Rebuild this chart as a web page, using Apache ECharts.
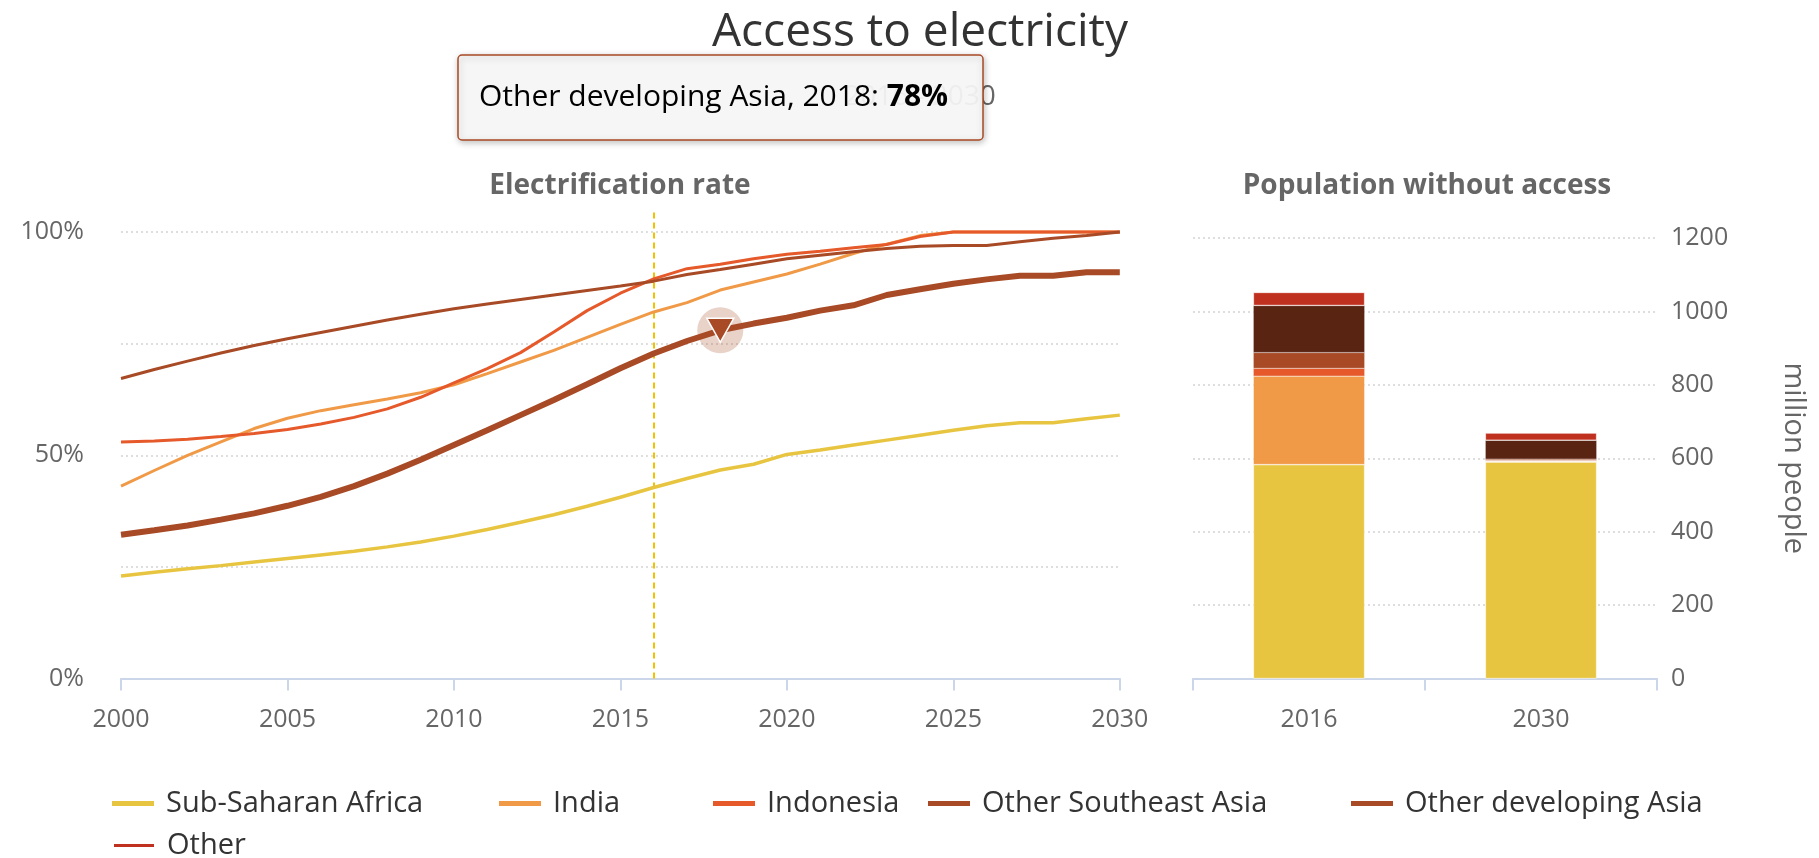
<!DOCTYPE html>
<html><head><meta charset="utf-8">
<script src="https://cdn.jsdelivr.net/npm/echarts@6/dist/echarts.min.js"></script>
<style>html,body{margin:0;padding:0;background:#fff}#c{width:1819px;height:858px}</style>
</head><body><div id="c"></div>
<script>
// ---------- data ----------
const years = [2000,2001,2002,2003,2004,2005,2006,2007,2008,2009,2010,2011,2012,2013,2014,2015,2016,2017,2018,2019,2020,2021,2022,2023,2024,2025,2026,2027,2028,2029,2030];
const subSaharanAfrica = [23.0,23.8,24.6,25.3,26.1,26.9,27.7,28.5,29.5,30.6,31.9,33.4,35.0,36.7,38.6,40.6,42.8,44.8,46.7,48.0,50.2,51.2,52.3,53.4,54.5,55.6,56.6,57.3,57.3,58.2,59.0];
const india = [43.1,46.6,50.0,53.0,56.0,58.3,60.0,61.3,62.6,64.0,65.8,68.3,70.9,73.5,76.4,79.3,82.1,84.2,87.0,88.8,90.6,92.8,95.2,97.3,99.2,100,100,100,100,100,100];
const indonesia = [53.0,53.2,53.6,54.2,54.9,55.8,57.0,58.5,60.4,63.0,66.2,69.4,73.0,77.6,82.4,86.3,89.5,91.8,92.8,94.0,95.0,95.7,96.5,97.2,99.0,100,100,100,100,100,100];
const otherSoutheastAsia = [67.2,69.2,71.1,72.9,74.6,76.1,77.5,78.9,80.3,81.6,82.8,83.9,84.9,85.9,86.9,87.9,89.0,90.5,91.6,92.8,94.0,94.8,95.6,96.3,96.8,97.0,97.0,97.8,98.6,99.2,100];
const otherDevelopingAsia = [32.2,33.2,34.3,35.6,37.0,38.7,40.7,43.1,45.9,49.0,52.3,55.6,59.0,62.4,65.9,69.5,72.8,75.6,78.0,79.5,80.8,82.4,83.6,85.9,87.2,88.4,89.4,90.2,90.2,91.0,91.0];
const rateTickLabels = [0, 50, 100];
const rateGridValues = [25, 50, 75, 100];
const baseYear = 2016;
const hoverYear = 2018;

const barCategories = ['2016', '2030'];
const barSubSaharanAfrica = [583, 590];
const barIndia = [241, 2];
const barIndonesia = [21, 2];
const barOtherSoutheastAsia = [43, 4];
const barOtherDevelopingAsia = [128, 51];
const barOther = [36, 20];

const legendNames = ['Sub-Saharan Africa', 'India', 'Indonesia', 'Other Southeast Asia', 'Other developing Asia', 'Other'];

// ---------- style ----------
const F = '"Open Sans", "Noto Sans", sans-serif';
const C = {
  'Sub-Saharan Africa': '#E8C540', 'India': '#F09A48', 'Indonesia': '#E5592A',
  'Other Southeast Asia': '#A84A25', 'Other developing Asia': '#A84A25', 'Other': '#C0301F'
};
const odaBarColor = '#5A2413';
const axisCol = '#ccd6eb';
const gridLine = {type: [2, 3], color: '#d4d4d4', width: 1.5};
const legendPos = [[112, 789], [499, 789], [713, 789], [928, 789], [1351, 789], [112, 831]];

function pairs(arr) { return years.map((y, i) => [y, arr[i]]); }

const hoverVal = otherDevelopingAsia[years.indexOf(hoverYear)];
const odaData = years.map((y, i) => {
  if (y === hoverYear) {
    return {value: [y, otherDevelopingAsia[i]], symbol: 'triangle', symbolRotate: 180, symbolSize: [27, 24],
      itemStyle: {color: C['Other developing Asia'], borderColor: '#fff', borderWidth: 1.5}};
  }
  return [y, otherDevelopingAsia[i]];
});

const lineBase = {type: 'line', xAxisIndex: 0, yAxisIndex: 0, symbol: 'none', silent: true, emphasis: {disabled: true}};
const barBase = {type: 'bar', xAxisIndex: 1, yAxisIndex: 1, stack: 'pop', barWidth: '48%', silent: true};

const legends = legendNames.map((n, i) => ({
  left: legendPos[i][0], top: legendPos[i][1], padding: 0, itemWidth: 42, itemHeight: 5, icon: 'rect',
  selectedMode: false,
  textStyle: {fontFamily: F, fontSize: 29, color: '#333', padding: [0, 0, 0, 7]},
  data: [{name: n, itemStyle: {color: C[n]}}]
}));

const option = {
  animation: false,
  backgroundColor: '#fff',
  textStyle: {fontFamily: F},
  grid: [
    {left: 121, top: 209.7, width: 998.8, height: 468.9},
    {left: 1193, top: 238, width: 464, height: 440.6}
  ],
  xAxis: [
    {type: 'value', gridIndex: 0, min: 2000, max: 2030, interval: 5,
      axisLine: {lineStyle: {color: axisCol, width: 2}},
      axisTick: {show: true, length: 12, lineStyle: {color: axisCol, width: 2}},
      axisLabel: {fontFamily: F, fontSize: 25, color: '#666', margin: 29, formatter: v => String(v)},
      splitLine: {show: false}},
    {type: 'category', gridIndex: 1, data: barCategories,
      axisLine: {lineStyle: {color: axisCol, width: 2}},
      axisTick: {show: true, length: 12, alignWithLabel: false, lineStyle: {color: axisCol, width: 2}},
      axisLabel: {fontFamily: F, fontSize: 25, color: '#666', margin: 29}}
  ],
  yAxis: [
    {type: 'value', gridIndex: 0, min: 0, max: 105, interval: 25,
      axisLine: {show: false}, axisTick: {show: false}, splitLine: {show: false},
      axisLabel: {fontFamily: F, fontSize: 25, color: '#666', margin: 37,
        formatter: v => rateTickLabels.includes(v) ? v + '%' : ''}},
    {type: 'value', gridIndex: 1, position: 'right', min: 0, max: 1200, interval: 200,
      axisLine: {show: false}, axisTick: {show: false},
      splitLine: {show: true, lineStyle: gridLine},
      axisLabel: {fontFamily: F, fontSize: 25, color: '#666', margin: 14, formatter: v => String(v)},
      name: 'million people', nameLocation: 'middle', nameRotate: -90, nameGap: 122,
      nameTextStyle: {fontFamily: F, fontSize: 29, color: '#666'}}
  ],
  legend: legends,
  graphic: [
    {type: 'text', z: 10, style: {text: 'Access to electricity', x: 920, y: 33, align: 'center', verticalAlign: 'middle',
      font: '46px ' + F, fill: '#333'}},
    {type: 'text', z: 10, style: {text: '2016 - 2030', x: 920, y: 97, align: 'center', verticalAlign: 'middle',
      font: '28px ' + F, fill: '#666'}},
    {type: 'text', z: 10, style: {text: 'Electrification rate', x: 620, y: 186, align: 'center', verticalAlign: 'middle',
      font: 'bold 28px ' + F, fill: '#666'}},
    {type: 'text', z: 10, style: {text: 'Population without access', x: 1427, y: 186, align: 'center', verticalAlign: 'middle',
      font: 'bold 28px ' + F, fill: '#666'}},
    {type: 'group', z: 100, children: [
      {type: 'rect', z: 100, shape: {x: 458, y: 55, width: 525, height: 85, r: 4},
        style: {fill: 'rgba(250,250,250,0.93)', stroke: C['Other developing Asia'], lineWidth: 1.5,
          shadowBlur: 6, shadowColor: 'rgba(0,0,0,0.25)', shadowOffsetX: 1, shadowOffsetY: 2}},
      {type: 'text', z: 101, style: {
        text: '{a|Other developing Asia, ' + hoverYear + ': }{b|' + Math.round(hoverVal) + '%}',
        x: 479, y: 97, verticalAlign: 'middle',
        rich: {a: {fontFamily: F, fontSize: 30, color: '#333'}, b: {fontFamily: F, fontSize: 30, fontWeight: 'bold', color: '#333'}}}}
    ]}
  ],
  series: [
    Object.assign({}, lineBase, {name: 'Sub-Saharan Africa', z: 2, data: pairs(subSaharanAfrica),
      lineStyle: {color: C['Sub-Saharan Africa'], width: 3.5},
      markLine: {silent: true, symbol: 'none', z: 1, label: {show: false},
        data: rateGridValues.map(v => ({yAxis: v, lineStyle: gridLine}))
          .concat([{xAxis: baseYear, lineStyle: {color: '#F2C200', type: [6, 4], width: 2}}])}}),
    Object.assign({}, lineBase, {name: 'India', z: 2, data: pairs(india), lineStyle: {color: C['India'], width: 3}}),
    Object.assign({}, lineBase, {name: 'Indonesia', z: 2, data: pairs(indonesia), lineStyle: {color: C['Indonesia'], width: 3}}),
    Object.assign({}, lineBase, {name: 'Other Southeast Asia', z: 2, data: pairs(otherSoutheastAsia), lineStyle: {color: C['Other Southeast Asia'], width: 3},
      markPoint: {silent: true, z: 3, label: {show: false},
        data: [{coord: [hoverYear, hoverVal], symbol: 'circle', symbolSize: 46, itemStyle: {color: 'rgba(168,74,37,0.25)'}}]}}),
    Object.assign({}, lineBase, {name: 'Other developing Asia', z: 4, showSymbol: true, data: odaData,
      lineStyle: {color: C['Other developing Asia'], width: 6}}),
    Object.assign({}, barBase, {name: 'Sub-Saharan Africa', data: barSubSaharanAfrica, itemStyle: {color: C['Sub-Saharan Africa'], borderColor: '#fff', borderWidth: 0.6}}),
    Object.assign({}, barBase, {name: 'India', data: barIndia, itemStyle: {color: C['India'], borderColor: '#fff', borderWidth: 0.4}}),
    Object.assign({}, barBase, {name: 'Indonesia', data: barIndonesia, itemStyle: {color: C['Indonesia'], borderColor: '#fff', borderWidth: 0.3}}),
    Object.assign({}, barBase, {name: 'Other Southeast Asia', data: barOtherSoutheastAsia, itemStyle: {color: C['Other Southeast Asia'], borderColor: '#fff', borderWidth: 0.3}}),
    Object.assign({}, barBase, {name: 'Other developing Asia', data: barOtherDevelopingAsia, itemStyle: {color: odaBarColor, borderColor: '#fff', borderWidth: 0.3}}),
    Object.assign({}, barBase, {name: 'Other', data: barOther, itemStyle: {color: C['Other'], borderColor: '#fff', borderWidth: 0.6}})
  ]
};

const chart = echarts.init(document.getElementById('c'), null, {renderer: 'canvas'});
chart.setOption(option);
</script>
</body></html>
